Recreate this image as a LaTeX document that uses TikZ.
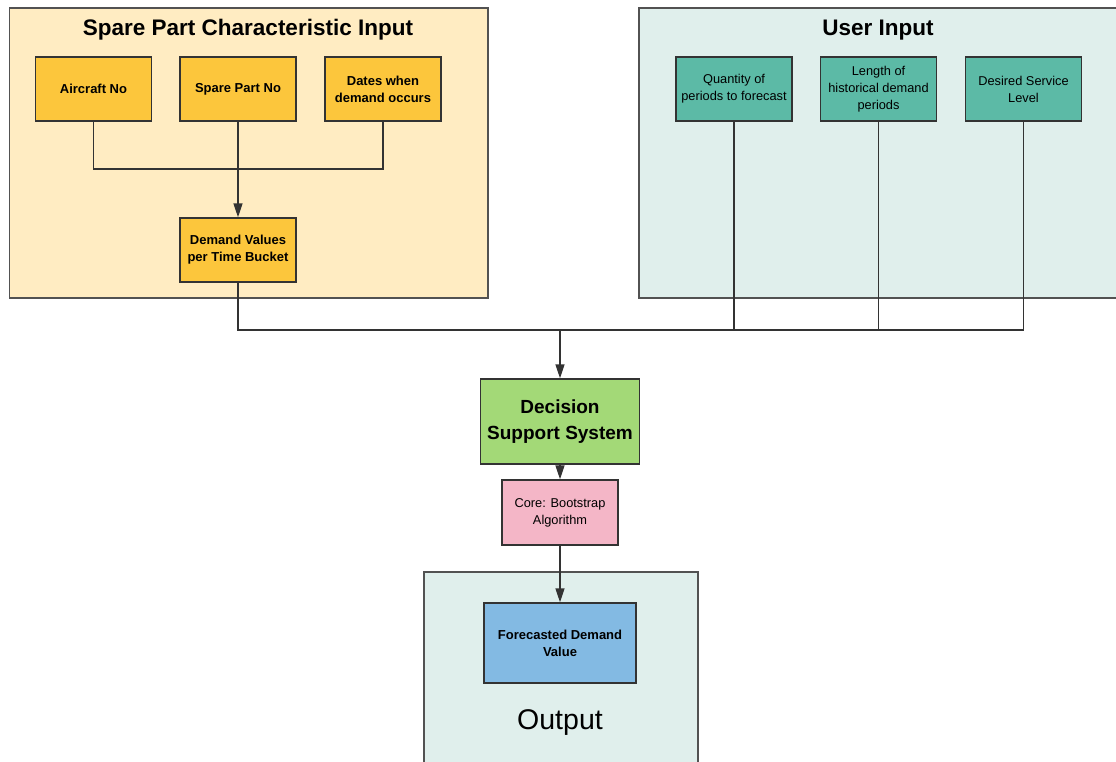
\documentclass[tikz,border=0pt]{standalone}
\usepackage{fontspec}
\setmainfont{Liberation Sans}
\usetikzlibrary{arrows.meta}
\definecolor{ylight}{HTML}{FFECC2}
\definecolor{ybox}{HTML}{FCC63C}
\definecolor{tlight}{HTML}{E0EFEC}
\definecolor{tbox}{HTML}{5CBAA6}
\definecolor{gbox}{HTML}{A3D977}
\definecolor{pbox}{HTML}{F4B6C7}
\definecolor{bbox}{HTML}{83BAE3}
\definecolor{edge}{HTML}{333333}
\tikzset{
  panel/.style={draw=edge!85, line width=1.5pt, inner sep=0pt},
  ybx/.style={draw=edge, line width=1.4pt, fill=ybox, minimum width=116pt, minimum height=64pt, align=center, font=\fontsize{13}{17}\selectfont\bfseries, inner sep=0pt},
  tbx/.style={draw=edge, line width=1.4pt, fill=tbox, minimum width=116pt, minimum height=64pt, align=center, font=\fontsize{12.8}{17}\selectfont, inner sep=0pt},
  title/.style={font=\fontsize{22.5}{24}\selectfont\bfseries},
  wire/.style={draw=edge, line width=1.5pt},
  arr/.style={wire, -{Triangle[length=14pt,width=9pt]}},
}
\begin{document}
\begin{tikzpicture}[x=1pt,y=-1pt]
\useasboundingbox (0,0) rectangle (1116,761);
\clip (0,0) rectangle (1116,761);
\fill[white] (0,0) rectangle (1116,761);
% panels
\draw[panel, fill=ylight] (9.5,8) rectangle (488,298);
\draw[panel, fill=tlight] (639,8) rectangle (1125,298);
\draw[panel, fill=tlight] (424,572) rectangle (698,775);
\node[title] (t1) at (248,30) {Spare Part Characteristic Input};
\node[title] (t2) at (878,30) {User Input};
% spare part boxes
\node[ybx] (a1) at (93.5,89) {Aircraft No};
\node[ybx] (a2) at (238,89) {Spare Part No};
\node[ybx] (a3) at (383,89) {Dates when\\demand occurs};
\node[ybx] (dv) at (238,250) {Demand Values\\per Time Bucket};
% user boxes
\node[tbx] (u1) at (734,89) {Quantity of\\periods to forecast};
\node[tbx] (u2) at (878.5,89) {Length of\\historical demand\\periods};
\node[tbx] (u3) at (1023.5,89) {Desired Service\\Level};
% center
\node[draw=edge, line width=1.4pt, fill=gbox, minimum width=159pt, minimum height=85pt, align=center, inner sep=0pt, font=\fontsize{19}{26}\selectfont\bfseries] (dss) at (560,421.5) {Decision\\Support System};
\node[draw=edge, line width=1.4pt, fill=pbox, minimum width=116pt, minimum height=65pt, align=center, inner sep=0pt, font=\fontsize{12.8}{17}\selectfont] (core) at (560,512.5) {Core: Bootstrap\\Algorithm};
\node[draw=edge, line width=1.4pt, fill=bbox, minimum width=152pt, minimum height=80pt, align=center, inner sep=0pt, font=\fontsize{13}{17}\selectfont\bfseries] (fc) at (560,643) {Forecasted Demand\\Value};
\node[font=\fontsize{28.5}{30}\selectfont] (outl) at (560,722) {Output};
% connectors
\coordinate (j1) at (238,169);
\coordinate (j2) at (560,330);
\draw[wire] (a1.south) |- (j1) -| (a3.south);
\draw[arr] (a2.south) -- (dv.north);
\draw[wire] (dv.south) |- (j2) -| (u3.south);
\draw[wire] (u1.south) -- (u1.south |- j2);
\draw[wire] (u2.south) -- (u2.south |- j2);
\draw[arr] (j2) -- (dss.north);
\draw[arr] (dss.south) -- (core.north);
\draw[arr] (core.south) -- (fc.north);
\end{tikzpicture}
\end{document}
